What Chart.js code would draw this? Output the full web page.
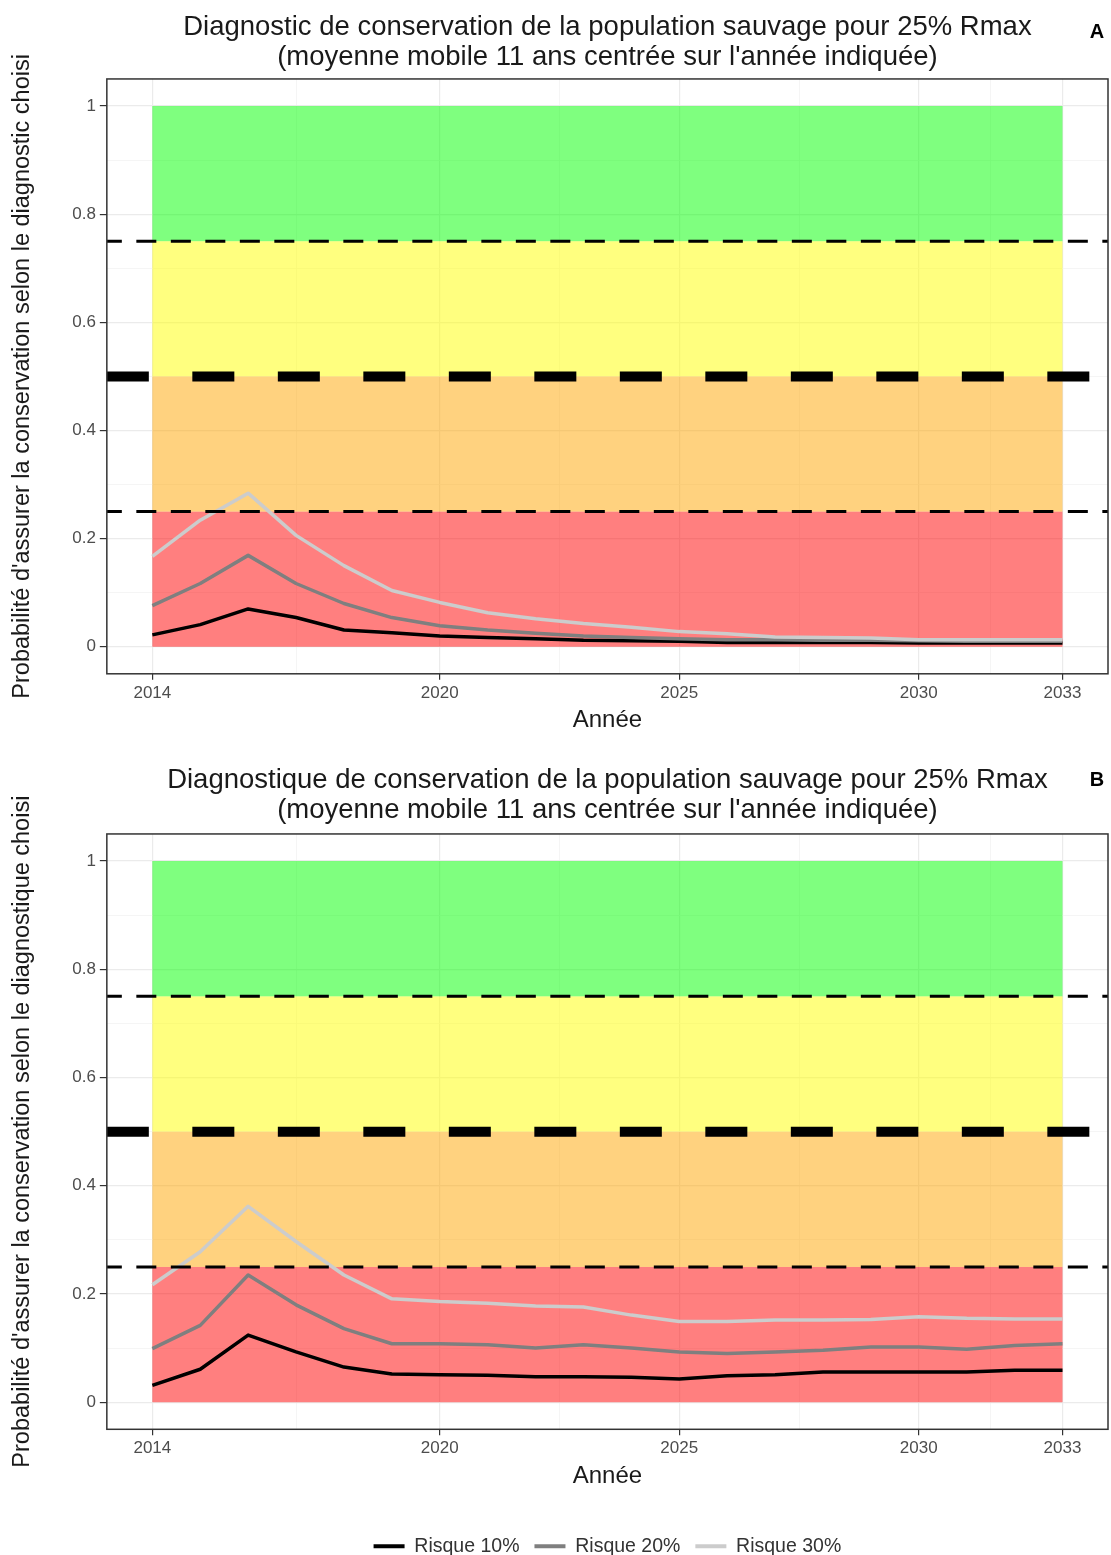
<!DOCTYPE html>
<html>
<head>
<meta charset="utf-8">
<script src="https://cdn.jsdelivr.net/npm/chart.js@4/dist/chart.umd.min.js"></script>
<style>
  html, body { margin: 0; padding: 0; background: #fff; overflow: hidden; }
  .panel { position: relative; width: 1111px; }
  canvas { display: block; }
</style>
</head>
<body>
<div class="panel"><canvas id="chartA" width="1111" height="752"></canvas></div>
<div class="panel"><canvas id="chartB" width="1111" height="820"></canvas></div>

<script>
// years on the x axis
const years = [2014, 2015, 2016, 2017, 2018, 2019, 2020, 2021, 2022, 2023,
               2024, 2025, 2026, 2027, 2028, 2029, 2030, 2031, 2032, 2033];

// panel A (diagnostic)
const risk10A = [0.022, 0.041, 0.070, 0.054, 0.031, 0.026, 0.020, 0.017, 0.015, 0.012,
                 0.011, 0.010, 0.008, 0.008, 0.008, 0.008, 0.007, 0.007, 0.007, 0.007];
const risk20A = [0.076, 0.117, 0.169, 0.117, 0.080, 0.054, 0.039, 0.031, 0.025, 0.020,
                 0.017, 0.015, 0.013, 0.013, 0.012, 0.012, 0.011, 0.010, 0.010, 0.010];
const risk30A = [0.167, 0.234, 0.284, 0.206, 0.150, 0.104, 0.082, 0.063, 0.052, 0.043,
                 0.036, 0.028, 0.024, 0.018, 0.017, 0.016, 0.013, 0.013, 0.013, 0.013];

// panel B (diagnostique)
const risk10B = [0.031, 0.061, 0.124, 0.093, 0.065, 0.052, 0.051, 0.050, 0.047, 0.047,
                 0.046, 0.043, 0.049, 0.051, 0.056, 0.056, 0.056, 0.056, 0.059, 0.059];
const risk20B = [0.099, 0.142, 0.235, 0.180, 0.136, 0.108, 0.108, 0.106, 0.100, 0.106,
                 0.100, 0.093, 0.090, 0.093, 0.096, 0.102, 0.102, 0.098, 0.105, 0.108];
const risk30B = [0.217, 0.278, 0.362, 0.297, 0.235, 0.191, 0.186, 0.183, 0.178, 0.176,
                 0.161, 0.149, 0.149, 0.152, 0.152, 0.153, 0.158, 0.155, 0.154, 0.154];

const seriesNames = ['Risque 10%', 'Risque 20%', 'Risque 30%'];
const seriesColors = ['#000000', '#7f7f7f', '#cccccc'];

// coloured zones
const bandStart = 2014;
const bandEnd = 2033;
const bandLow = [0, 0.25, 0.5, 0.75];
const bandHigh = [0.25, 0.5, 0.75, 1];
const bandColors = ['rgba(255,0,0,0.5)', 'rgba(255,165,0,0.5)', 'rgba(255,255,0,0.5)', 'rgba(0,255,0,0.5)'];

// horizontal dashed thresholds
const thresholds = [0.25, 0.5, 0.75];

// axes
const xMin = 2013.05, xMax = 2033.95;
const yMin = -0.05, yMax = 1.05;
const xTickValues = [2014, 2020, 2025, 2030, 2033];
const xTickLabels = ['2014', '2020', '2025', '2030', '2033'];
const xMinorValues = [2017, 2022.5, 2027.5, 2031.5];
const yTickValues = [0, 0.2, 0.4, 0.6, 0.8, 1];
const yTickLabels = ['0', '0.2', '0.4', '0.6', '0.8', '1'];
const yMinorValues = [0.1, 0.3, 0.5, 0.7, 0.9];

const FONT = "'Liberation Sans', Arial, sans-serif";

// draws the zones under the lines, the panel frame and the corner letter
const panelPlugin = {
  id: 'panelDeco',
  beforeDatasetsDraw(chart) {
    const { ctx, chartArea, scales: { x, y } } = chart;
    ctx.save();
    ctx.beginPath();
    ctx.rect(chartArea.left, chartArea.top, chartArea.width, chartArea.height);
    ctx.clip();
    bandLow.forEach((lo, i) => {
      const x0 = x.getPixelForValue(bandStart);
      const x1 = x.getPixelForValue(bandEnd);
      const y0 = y.getPixelForValue(bandHigh[i]);
      const y1 = y.getPixelForValue(lo);
      ctx.fillStyle = bandColors[i];
      ctx.fillRect(x0, y0, x1 - x0, y1 - y0);
    });
    ctx.restore();
  },
  afterDatasetsDraw(chart) {
    const { ctx, chartArea } = chart;
    ctx.save();
    ctx.strokeStyle = '#333333';
    ctx.lineWidth = 1.5;
    ctx.strokeRect(chartArea.left, chartArea.top, chartArea.width, chartArea.height);
    ctx.restore();
  },
  afterDraw(chart, args, opts) {
    if (!opts.letter) return;
    const { ctx } = chart;
    ctx.save();
    ctx.font = 'bold 20px ' + FONT;
    ctx.fillStyle = '#000';
    ctx.textAlign = 'center';
    ctx.textBaseline = 'middle';
    ctx.fillText(opts.letter, opts.letterX, opts.letterY);
    ctx.restore();
  }
};

// lay: per-panel spacing (title padding, x title padding, outer padding)
function makeChart(canvasId, titleLines, yTitle, letter, letterY, r10, r20, r30, withLegend, lay) {
  const risks = [r10, r20, r30];
  const datasets = [];

  // dashed thresholds first so they are drawn on top
  thresholds.forEach(t => {
    const thick = t === 0.5;
    datasets.push({
      label: 'seuil ' + t,
      data: [{ x: xMin, y: t }, { x: xMax, y: t }],
      borderColor: '#000000',
      borderWidth: thick ? 10 : 3,
      borderDash: thick ? [42, 43.5] : [20, 14.5],
      borderDashOffset: thick ? 0 : 5,
      borderCapStyle: 'butt',
      pointRadius: 0,
      fill: false
    });
  });

  // 30% then 20% then 10%, so 10% ends up underneath
  for (let i = 2; i >= 0; i--) {
    datasets.push({
      label: seriesNames[i],
      data: years.map((yr, k) => ({ x: yr, y: risks[i][k] })),
      borderColor: seriesColors[i],
      backgroundColor: seriesColors[i],
      borderWidth: 3.5,
      borderJoinStyle: 'round',
      pointRadius: 0,
      tension: 0,
      fill: false
    });
  }

  return new Chart(document.getElementById(canvasId), {
    type: 'line',
    data: { datasets },
    plugins: [panelPlugin],
    options: {
      responsive: false,
      animation: false,
      events: [],
      layout: { padding: { left: 0, right: 3, top: 0, bottom: lay.bottom } },
      plugins: {
        title: {
          display: true,
          text: titleLines,
          fullSize: false,
          color: '#1a1a1a',
          font: { family: FONT, size: 27.5, weight: 'normal', lineHeight: 1.09 },
          padding: { top: lay.titleTop, bottom: lay.titleBottom }
        },
        legend: {
          display: withLegend,
          position: 'bottom',
          fullSize: false,
          labels: {
            color: '#333333',
            font: { family: FONT, size: 19.5 },
            boxWidth: 31,
            boxHeight: 4,
            padding: 15,
            generateLabels: () => seriesNames.map((n, i) => ({
              text: n,
              fillStyle: seriesColors[i],
              strokeStyle: seriesColors[i],
              lineWidth: 0,
              hidden: false,
              fontColor: '#333333'
            }))
          }
        },
        tooltip: { enabled: false },
        panelDeco: { letter, letterX: 1097, letterY }
      },
      scales: {
        x: {
          type: 'linear',
          min: xMin,
          max: xMax,
          afterBuildTicks: s => {
            s.ticks = xTickValues.concat(xMinorValues).map(v => ({ value: v }));
          },
          ticks: {
            autoSkip: false,
            maxRotation: 0,
            padding: 3,
            color: '#4d4d4d',
            font: { family: FONT, size: 17 },
            callback: v => {
              const k = xTickValues.indexOf(v);
              return k >= 0 ? xTickLabels[k] : '';
            }
          },
          grid: {
            color: c => xTickValues.includes(c.tick.value) ? '#ebebeb' : '#f3f3f3',
            lineWidth: c => xTickValues.includes(c.tick.value) ? 1.2 : 0.8,
            tickColor: c => xTickValues.includes(c.tick.value) ? '#333333' : 'rgba(0,0,0,0)',
            tickLength: 6,
            tickWidth: 1.2
          },
          border: { display: false },
          title: {
            display: true,
            text: 'Année',
            color: '#1a1a1a',
            font: { family: FONT, size: 24, lineHeight: 1.2 },
            padding: { top: 0, bottom: lay.xTitleBottom }
          }
        },
        y: {
          type: 'linear',
          min: yMin,
          max: yMax,
          afterBuildTicks: s => {
            s.ticks = yTickValues.concat(yMinorValues).map(v => ({ value: v }));
          },
          ticks: {
            autoSkip: false,
            padding: 4,
            color: '#4d4d4d',
            font: { family: FONT, size: 17 },
            callback: v => {
              const k = yTickValues.indexOf(v);
              return k >= 0 ? yTickLabels[k] : '';
            }
          },
          grid: {
            color: c => yTickValues.includes(c.tick.value) ? '#ebebeb' : '#f3f3f3',
            lineWidth: c => yTickValues.includes(c.tick.value) ? 1.2 : 0.8,
            tickColor: c => yTickValues.includes(c.tick.value) ? '#333333' : 'rgba(0,0,0,0)',
            tickLength: 7,
            tickWidth: 1.2
          },
          border: { display: false },
          title: {
            display: true,
            text: yTitle,
            color: '#1a1a1a',
            font: { family: FONT, size: 23.5, lineHeight: 1.2 },
            padding: { top: 8, bottom: 32 }
          }
        }
      }
    }
  });
}

makeChart('chartA',
  ['Diagnostic de conservation de la population sauvage pour 25% Rmax',
   "(moyenne mobile 11 ans centrée sur l'année indiquée)"],
  "Probabilité d'assurer la conservation selon le diagnostic choisi",
  'A', 32, risk10A, risk20A, risk30A, false,
  { titleTop: 12, titleBottom: 7, xTitleBottom: 4, bottom: 13 });

makeChart('chartB',
  ['Diagnostique de conservation de la population sauvage pour 25% Rmax',
   "(moyenne mobile 11 ans centrée sur l'année indiquée)"],
  "Probabilité d'assurer la conservation selon le diagnostique choisi",
  'B', 28, risk10B, risk20B, risk30B, true,
  { titleTop: 13, titleBottom: 9, xTitleBottom: 31, bottom: 6 });
</script>
</body>
</html>
